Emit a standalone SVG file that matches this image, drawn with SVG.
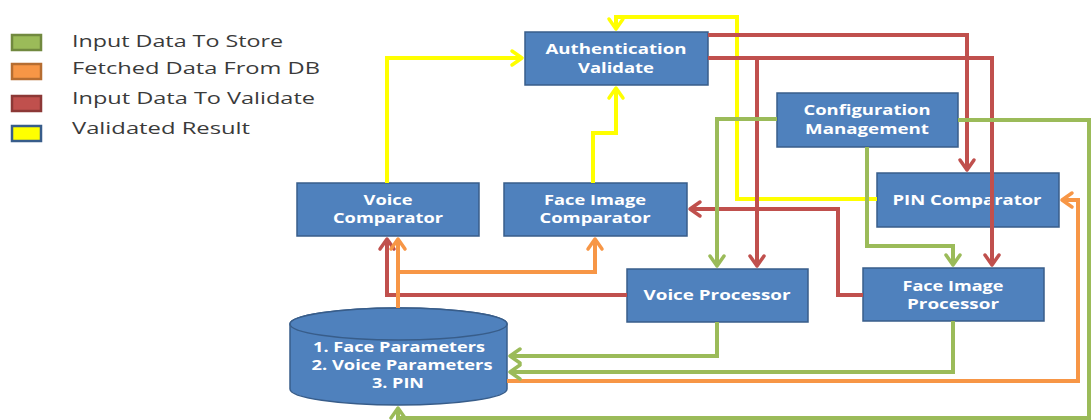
<svg xmlns="http://www.w3.org/2000/svg" width="1091" height="420" viewBox="0 0 1091 420">
<style>
.node{fill:#4F81BD;stroke:#385D8A;stroke-width:1.5}
.lbl{font-family:"Open Sans","Liberation Sans",sans-serif;font-weight:bold;font-size:14px;fill:#FFFFFF;text-anchor:middle}
.leg{font-family:"Open Sans","Liberation Sans",sans-serif;font-size:16px;fill:#3A3A3A}
.c{fill:none;stroke-width:4;stroke-linejoin:miter}
.g{stroke:#9BBB59}.o{stroke:#F79646}.r{stroke:#C0504D}.y{stroke:#FFFF00}
</style>
<defs>
<marker id="mg" viewBox="-13 -10 16 20" refX="0" refY="0" markerWidth="16" markerHeight="20" markerUnits="userSpaceOnUse" orient="auto"><path d="M-10,-7 L0,0 L-10,7" fill="none" stroke="#9BBB59" stroke-width="3.5" stroke-linecap="round" stroke-linejoin="round"/></marker>
<marker id="mo" viewBox="-13 -10 16 20" refX="0" refY="0" markerWidth="16" markerHeight="20" markerUnits="userSpaceOnUse" orient="auto"><path d="M-10,-7 L0,0 L-10,7" fill="none" stroke="#F79646" stroke-width="3.5" stroke-linecap="round" stroke-linejoin="round"/></marker>
<marker id="mr" viewBox="-13 -10 16 20" refX="0" refY="0" markerWidth="16" markerHeight="20" markerUnits="userSpaceOnUse" orient="auto"><path d="M-10,-7 L0,0 L-10,7" fill="none" stroke="#C0504D" stroke-width="3.5" stroke-linecap="round" stroke-linejoin="round"/></marker>
<marker id="my" viewBox="-13 -10 16 20" refX="0" refY="0" markerWidth="16" markerHeight="20" markerUnits="userSpaceOnUse" orient="auto"><path d="M-10,-7 L0,0 L-10,7" fill="none" stroke="#FFFF00" stroke-width="3.5" stroke-linecap="round" stroke-linejoin="round"/></marker>
</defs>
<rect width="1091" height="420" fill="#FFFFFF"/>
<g id="legend">
<rect x="12" y="35" width="29" height="15" fill="#9BBB59" stroke="#71893F" stroke-width="2.5"/>
<rect x="12" y="64" width="29" height="15" fill="#F79646" stroke="#B66D31" stroke-width="2.5"/>
<rect x="12" y="96" width="29" height="15" fill="#C0504D" stroke="#8C3836" stroke-width="2.5"/>
<rect x="12" y="126" width="29" height="15" fill="#FFFF00" stroke="#385D8A" stroke-width="2.5"/>
<text class="leg" x="72" y="47" textLength="211" lengthAdjust="spacingAndGlyphs">Input Data To Store</text>
<text class="leg" x="72" y="74" textLength="248" lengthAdjust="spacingAndGlyphs">Fetched Data From  DB</text>
<text class="leg" x="72" y="104" textLength="243" lengthAdjust="spacingAndGlyphs">Input Data To Validate</text>
<text class="leg" x="72" y="134" textLength="178" lengthAdjust="spacingAndGlyphs">Validated Result</text>
</g>
<g id="auth">
<rect class="node" x="525" y="32" width="183" height="53"/>
<text class="lbl" x="616" y="54" textLength="141" lengthAdjust="spacingAndGlyphs">Authentication</text>
<text class="lbl" x="616" y="73" textLength="76" lengthAdjust="spacingAndGlyphs">Validate</text>
</g>
<g id="config">
<rect class="node" x="777" y="93" width="181" height="54"/>
<text class="lbl" x="867" y="115" textLength="127" lengthAdjust="spacingAndGlyphs">Configuration</text>
<text class="lbl" x="867" y="134" textLength="124" lengthAdjust="spacingAndGlyphs">Management</text>
</g>
<g id="voiceComparator">
<rect class="node" x="297" y="183" width="182" height="53"/>
<text class="lbl" x="388" y="205" textLength="49" lengthAdjust="spacingAndGlyphs">Voice</text>
<text class="lbl" x="388" y="223" textLength="110" lengthAdjust="spacingAndGlyphs">Comparator</text>
</g>
<g id="faceComparator">
<rect class="node" x="504" y="183" width="183" height="53"/>
<text class="lbl" x="595" y="205" textLength="102" lengthAdjust="spacingAndGlyphs">Face Image</text>
<text class="lbl" x="595" y="223" textLength="111" lengthAdjust="spacingAndGlyphs">Comparator</text>
</g>
<g id="pinComparator">
<rect class="node" x="877" y="173" width="182" height="54"/>
<text class="lbl" x="967" y="205" textLength="149" lengthAdjust="spacingAndGlyphs">PIN Comparator</text>
</g>
<g id="voiceProcessor">
<rect class="node" x="627" y="269" width="181" height="53"/>
<text class="lbl" x="717" y="300" textLength="147" lengthAdjust="spacingAndGlyphs">Voice Processor</text>
</g>
<g id="faceProcessor">
<rect class="node" x="863" y="268" width="181" height="53"/>
<text class="lbl" x="953" y="291" textLength="101" lengthAdjust="spacingAndGlyphs">Face Image</text>
<text class="lbl" x="953" y="309" textLength="92" lengthAdjust="spacingAndGlyphs">Processor</text>
</g>
<g id="database">
<path class="node" d="M290,324 V389 A108.5,16 0 0 0 507,389 V324 A108.5,16 0 0 0 290,324 Z"/>
<ellipse class="node" cx="398.5" cy="324" rx="108.5" ry="16"/>
<text class="lbl" x="399" y="352" textLength="172" lengthAdjust="spacingAndGlyphs">1. Face Parameters</text>
<text class="lbl" x="402" y="370" textLength="181" lengthAdjust="spacingAndGlyphs">2. Voice Parameters</text>
<text class="lbl" x="398" y="388" textLength="52" lengthAdjust="spacingAndGlyphs">3. PIN</text>
</g>
<g id="connectors">
<path class="c y" d="M387,183 V58 H522" marker-end="url(#my)"/>
<path class="c y" d="M593,183 V133 H616 V88" marker-end="url(#my)"/>
<path class="c y" d="M877,199 H737 V17 H616 V29" marker-end="url(#my)"/>
<path class="c r" d="M708,35 H967 V170" marker-end="url(#mr)"/>
<path class="c r" d="M708,58 H992 V265" marker-end="url(#mr)"/>
<path class="c r" d="M757,58 V266" marker-end="url(#mr)"/>
<path class="c r" d="M863,295 H838 V209 H690" marker-end="url(#mr)"/>
<path class="c r" d="M627,295 H387 V239" marker-end="url(#mr)"/>
<path class="c o" d="M398,308 V239" marker-end="url(#mo)"/>
<path class="c o" d="M398,272 H595 V239" marker-end="url(#mo)"/>
<path class="c o" d="M507,381 H1078 V200 H1062" marker-end="url(#mo)"/>
<path class="c g" d="M777,119 H717 V266" marker-end="url(#mg)"/>
<path class="c g" d="M867,147 V246 H953 V265" marker-end="url(#mg)"/>
<path class="c g" d="M958,120 H1089 V418 H398 V408" marker-end="url(#mg)"/>
<path class="c g" d="M717,322 V356 H510" marker-end="url(#mg)"/>
<path class="c g" d="M953,321 V372 H510" marker-end="url(#mg)"/>
</g>
</svg>
